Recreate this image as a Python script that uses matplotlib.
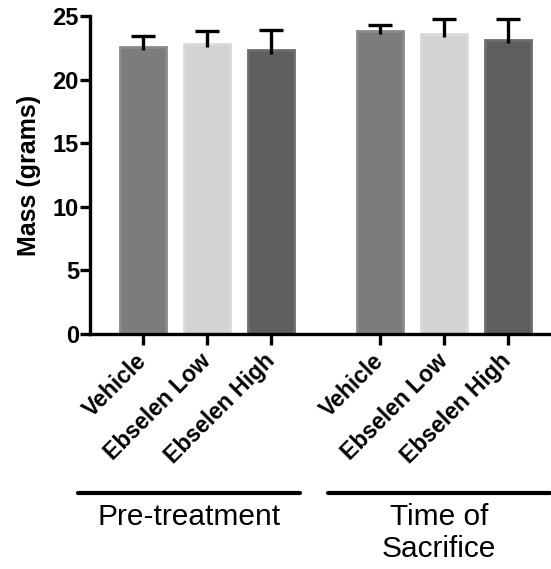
import matplotlib.pyplot as plt
from matplotlib.lines import Line2D

plt.rcParams['font.family'] = ['Liberation Sans', 'DejaVu Sans']

# data
groups = ["Pre-treatment", "Time of\nSacrifice"]
treatments = ["Vehicle", "Ebselen Low", "Ebselen High"]
mass_pre = [22.6, 22.8, 22.3]
sem_pre = [0.8, 1.05, 1.6]
mass_sac = [23.8, 23.6, 23.1]
sem_sac = [0.5, 1.15, 1.7]
colors = ["#7c7c7c", "#d3d3d3", "#5e5e5e"]
edges = ["#8a8a8a", "#dadada", "#6c6c6c"]

W, H = 551, 569
fig = plt.figure(figsize=(W / 100, H / 100), dpi=100)
ax = fig.add_axes([90 / W, 1 - 334 / H, (W - 90) / W, (334 - 16) / H])

gap = 3.7
xpos = []
for gi, (vals, errs) in enumerate([(mass_pre, sem_pre), (mass_sac, sem_sac)]):
    xs = [gi * gap + i for i in range(len(treatments))]
    xpos += xs
    ax.bar(xs, vals, width=0.72, color=colors, edgecolor=edges, linewidth=2, zorder=2)
    eb = ax.errorbar(xs, [v - 0.25 for v in vals], yerr=[[0] * len(errs), [e + 0.25 for e in errs]],
                     fmt='none', ecolor='black', elinewidth=2.4, capsize=8.3, capthick=2.4, zorder=3)
    # only the upper half of the error bar is shown
    eb[1][0].set_visible(False)

ax.set_xlim(-0.83, 6.375)
ax.set_ylim(0, 25)
ax.set_yticks([0, 5, 10, 15, 20, 25])
ax.set_xticks(xpos)
ax.set_xticklabels(treatments * 2, rotation=45, ha='right', va='center',
                   rotation_mode='anchor', fontsize=16.5, fontweight='bold')
for lab in ax.get_yticklabels():
    lab.set_fontweight('bold')
ax.tick_params(axis='y', labelsize=17, width=2.4, length=7, pad=1)
ax.tick_params(axis='x', width=2.4, length=8, pad=9)
ax.set_ylabel("Mass (grams)", fontsize=18, fontweight='bold', labelpad=8)

for s in ['top', 'right']:
    ax.spines[s].set_visible(False)
for s in ['left', 'bottom']:
    ax.spines[s].set_linewidth(2.4)

# group brackets below the tick labels
ly = 1 - 493 / H
for (x0, x1), name in zip([(78, 300), (328, 550)], groups):
    fig.add_artist(Line2D([x0 / W, x1 / W], [ly, ly], color='black', linewidth=3,
                          solid_capstyle='round'))
    fig.text((x0 + x1) / 2 / W, ly - 10 / H, name, ha='center', va='top',
             fontsize=21.5, linespacing=1.2)

fig.savefig("out.png", dpi=100)
